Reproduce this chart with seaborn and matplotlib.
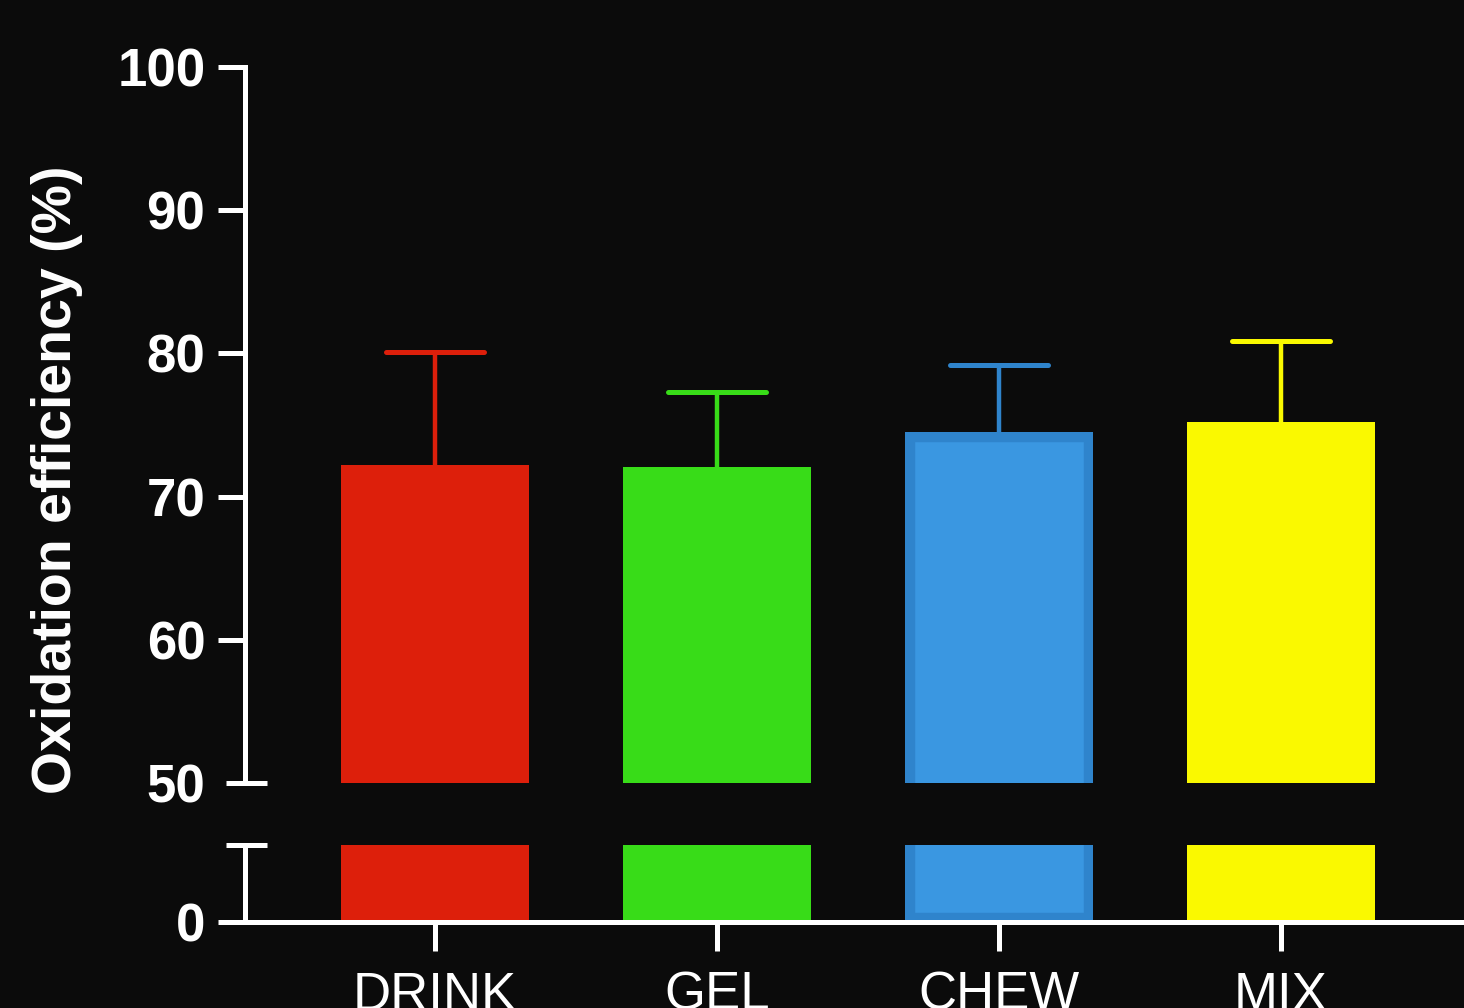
import matplotlib
matplotlib.use("Agg")
import matplotlib.pyplot as plt
import matplotlib.transforms as mtransforms
from matplotlib.markers import MarkerStyle
import numpy as np
import pandas as pd
import seaborn as sns

# Oxidation efficiency by carbohydrate format (mean + SD)
categories = ["DRINK", "GEL", "CHEW", "MIX"]
means = [72.2, 72.1, 74.5, 75.2]
sds = [7.9, 5.2, 4.7, 5.7]
bar_colors = ["#DD1F0B", "#38DC18", "#3A97E1", "#FAF900"]
edge_colors = ["#DD1F0B", "#38DC18", "#2F84CC", "#FAF900"]
edge_widths = [0, 0, 14, 0]
upper_ticks = [50, 60, 70, 80, 90, 100]
lower_ticks = [0]

df = pd.DataFrame({"format": categories, "efficiency": means})

sns.set_theme(style="ticks")
plt.rcParams["font.family"] = ["Liberation Sans", "DejaVu Sans"]

BG = "#0b0b0b"
FG = "white"
LW = 3.6

fig = plt.figure(figsize=(14.64, 10.08), dpi=100, facecolor=BG)
ax_top = fig.add_axes([0.1673, 0.2232, 0.8327, 0.7103])
ax_bot = fig.add_axes([0.1673, 0.0853, 0.8327, 0.0764])

for ax in (ax_top, ax_bot):
    ax.set_facecolor("none")
    sns.barplot(data=df, x="format", y="efficiency", hue="format",
                palette=bar_colors, width=0.667, saturation=1,
                legend=False, errorbar=None, ax=ax)
    for patch, ec, ew in zip(ax.patches, edge_colors, edge_widths):
        patch.set_edgecolor(ec)
        patch.set_linewidth(ew)
        patch.set_zorder(2)
        # keep the outline inside the bar while still clipping to the axes
        patch.set_clip_path(patch.get_path(), patch.get_transform())
        patch.set_clip_box(ax.bbox)
    ax.set_xlim(-0.674, 3.649)
    ax.set_xlabel("")
    ax.set_ylabel("")
    for side in ("top", "right"):
        ax.spines[side].set_visible(False)
    ax.spines["left"].set_color(FG)
    ax.spines["left"].set_linewidth(LW)
    ax.tick_params(axis="y", colors=FG, width=LW, length=19.5, pad=9,
                   labelsize=38)

# upward error bars (mean + SD), cap only on the upper end
xpos = np.arange(len(categories))
for x, m, s, c in zip(xpos, means, sds, edge_colors):
    _, caps, bars = ax_top.errorbar(x, m, yerr=[[0], [s]], fmt="none",
                                    ecolor=c, elinewidth=3.2, capsize=35,
                                    capthick=3.6, zorder=1.9)
    caps[0].set_visible(False)
    caps[1].set_marker(MarkerStyle("_", capstyle="round"))

# upper segment 50-100
ax_top.set_ylim(50, 100)
ax_top.set_yticks(upper_ticks)
ax_top.set_yticklabels([str(t) for t in upper_ticks], fontweight="bold")
ax_top.spines["bottom"].set_visible(False)
ax_top.tick_params(axis="x", bottom=False, labelbottom=False)
ax_top.yaxis.get_major_ticks()[0].tick1line.set_visible(False)

# lower segment 0-5
ax_bot.set_ylim(0, 5.4)
ax_bot.set_yticks(lower_ticks)
ax_bot.set_yticklabels(["0"], fontweight="bold")
ax_bot.spines["bottom"].set_color(FG)
ax_bot.spines["bottom"].set_linewidth(LW)
ax_bot.spines["bottom"].set_zorder(3)
ax_bot.tick_params(axis="x", colors=FG, width=LW, length=21, pad=14,
                   labelsize=38)

# axis-break markers straddling the y spine
for ax, yv in ((ax_top, 50), (ax_bot, 5.4)):
    tr = mtransforms.blended_transform_factory(ax.transAxes, ax.transData)
    ax.plot([-0.0155, 0.0182], [yv, yv], color=FG, lw=LW, transform=tr,
            clip_on=False, solid_capstyle="butt", zorder=4)

fig.text(57 / 1464, 1 - 480 / 1008, "Oxidation efficiency (%)", rotation=90,
         ha="center", va="center", color=FG, fontsize=40, fontweight="bold")

fig.savefig("out.png", dpi=100, facecolor=BG)
